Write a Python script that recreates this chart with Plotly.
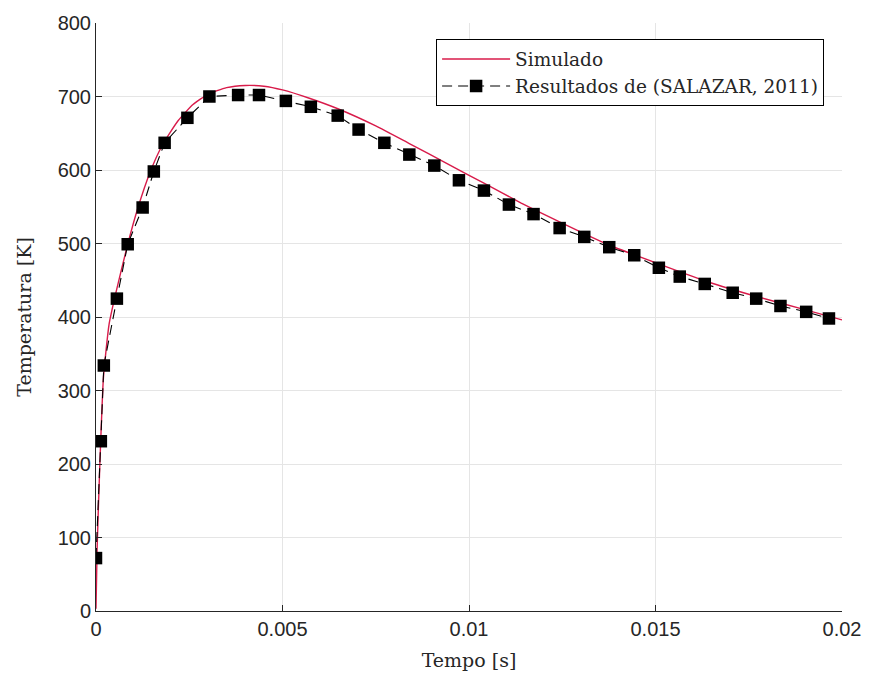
import plotly.graph_objects as go

# Simulated curve (red)
sim_t = [0.0, 0.00003, 0.0001, 0.0002, 0.00035, 0.00051, 0.00085, 0.00112, 0.00145,
         0.00178, 0.0022, 0.0026, 0.0030, 0.0035, 0.0040, 0.0045, 0.0050, 0.0057,
         0.0065, 0.0075, 0.0084, 0.0094, 0.0104, 0.0114, 0.0124, 0.0137, 0.0151,
         0.0164, 0.0177, 0.0190, 0.0200]
sim_T = [3, 85, 195, 318, 390, 428, 499, 548, 597,
         634, 667, 689, 703, 712, 715, 714, 709, 698,
         683, 660, 636, 609, 582, 555, 530, 499, 472,
         448, 428, 410, 396]

# Reference data (SALAZAR, 2011)
ref_t = [0.0, 0.00013, 0.00021, 0.00056, 0.00085, 0.00125, 0.00155, 0.00184, 0.00245,
         0.00304, 0.00381, 0.00437, 0.00509, 0.00576, 0.00648, 0.00704, 0.00773, 0.0084,
         0.00907, 0.00973, 0.0104, 0.01107, 0.01173, 0.01243, 0.01309, 0.01376, 0.01443,
         0.01509, 0.01565, 0.01632, 0.01707, 0.0177, 0.01835, 0.01904, 0.01965]
ref_T = [72, 231, 334, 425, 499, 549, 598, 637, 671,
         700, 702, 702, 694, 686, 674, 655, 637, 621,
         606, 586, 572, 553, 540, 521, 509, 495, 484,
         467, 455, 445, 433, 425, 415, 407, 398]

x_ticks = [0, 0.005, 0.01, 0.015, 0.02]
x_tick_text = ["0", "0.005", "0.01", "0.015", "0.02"]
y_ticks = [0, 100, 200, 300, 400, 500, 600, 700, 800]

fig = go.Figure()
fig.add_trace(go.Scatter(
    x=sim_t, y=sim_T, mode="lines", name="Simulado",
    line=dict(color="#d81b4a", width=1.4, shape="spline", smoothing=0.5),
))
fig.add_trace(go.Scatter(
    x=ref_t, y=ref_T, mode="lines+markers", name="Resultados de (SALAZAR, 2011)",
    line=dict(color="black", width=1.1, dash="10px,6px"),
    marker=dict(symbol="square", size=12.5, color="black"),
))

axis_common = dict(
    showline=True, linecolor="#262626", linewidth=1,
    ticks="inside", ticklen=6, tickcolor="#262626",
    showgrid=True, gridcolor="#e5e5e5", gridwidth=1,
    zeroline=False, mirror=False,
    tickfont=dict(family="Liberation Sans, Arial, sans-serif", size=20, color="#262626"),
)

fig.update_layout(
    width=873, height=682,
    margin=dict(l=96, r=27, t=20, b=71),
    paper_bgcolor="white", plot_bgcolor="white",
    xaxis=dict(range=[0, 0.02], tickvals=x_ticks, ticktext=x_tick_text,
               title=dict(text="Tempo [s]", standoff=14,
                          font=dict(family="DejaVu Serif, serif", size=19, color="#262626")),
               **axis_common),
    yaxis=dict(range=[0, 800], tickvals=y_ticks,
               title=dict(text="Temperatura [K]", standoff=20,
                          font=dict(family="DejaVu Serif, serif", size=19, color="#262626")),
               **axis_common),
    legend=dict(x=0.976, xanchor="right", y=0.972, yanchor="top",
                bgcolor="white", bordercolor="black", borderwidth=1,
                font=dict(family="DejaVu Serif, serif", size=18.5, color="#262626"),
                tracegroupgap=0, itemwidth=68),
    showlegend=True,
)

fig.write_html("out.html")
